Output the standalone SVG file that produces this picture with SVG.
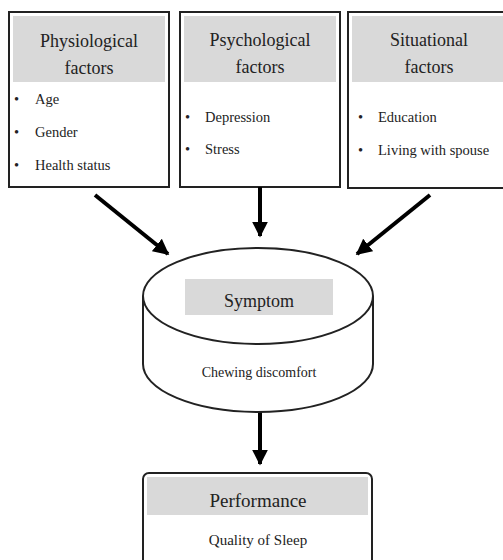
<svg xmlns="http://www.w3.org/2000/svg" width="503" height="560" viewBox="0 0 503 560">
<defs>
<style>
.box{fill:#fff;stroke:#222;stroke-width:2}
.hdr{fill:#d9d9d9}
.t{font-family:"Liberation Serif","Times New Roman",serif;fill:#222;text-anchor:middle;font-size:18px}
.b{font-family:"Liberation Serif","Times New Roman",serif;fill:#222;font-size:14.5px}
.conn{stroke:#000;stroke-width:4;fill:none;marker-end:url(#ah)}
</style>
<marker id="ah" viewBox="0 0 10 10" refX="9" refY="5" markerWidth="4" markerHeight="4" orient="auto" markerUnits="strokeWidth">
<path d="M0,0 L10,5 L0,10 z" fill="#000"/>
</marker>
</defs>
<rect width="503" height="560" fill="#fff"/>
<g id="physiological">
<rect class="box" x="9" y="12" width="160" height="175"/>
<rect class="hdr" x="13" y="16" width="152" height="66"/>
<text class="t" x="89" y="47">Physiological</text>
<text class="t" x="89" y="74">factors</text>
<text class="b" x="14" y="104">•</text><text class="b" x="35" y="104">Age</text>
<text class="b" x="14" y="137">•</text><text class="b" x="35" y="137">Gender</text>
<text class="b" x="14" y="170">•</text><text class="b" x="35" y="170">Health status</text>
</g>
<g id="psychological">
<rect class="box" x="180" y="12" width="160" height="175"/>
<rect class="hdr" x="184" y="16" width="152" height="66"/>
<text class="t" x="260" y="46">Psychological</text>
<text class="t" x="260" y="73">factors</text>
<text class="b" x="185" y="122">•</text><text class="b" x="205" y="122">Depression</text>
<text class="b" x="185" y="154">•</text><text class="b" x="205" y="154">Stress</text>
</g>
<g id="situational">
<rect class="box" x="348" y="12" width="160" height="176"/>
<rect class="hdr" x="352" y="16" width="151" height="66"/>
<text class="t" x="429" y="46">Situational</text>
<text class="t" x="429" y="73">factors</text>
<text class="b" x="358" y="122">•</text><text class="b" x="378" y="122">Education</text>
<text class="b" x="358" y="155">•</text><text class="b" x="378" y="155">Living with spouse</text>
</g>
<g id="connectors">
<line class="conn" x1="95" y1="195" x2="168" y2="254"/>
<line class="conn" x1="260" y1="187" x2="260" y2="236"/>
<line class="conn" x1="430" y1="195" x2="357" y2="254"/>
<line class="conn" x1="260" y1="412" x2="260" y2="464"/>
</g>
<g id="symptom">
<path d="M143,296 L143,364 A115,48 0 0 0 373,364 L373,296" fill="#fff" stroke="#222" stroke-width="2"/>
<ellipse cx="258" cy="296" rx="115" ry="48" fill="#fff" stroke="#222" stroke-width="2"/>
<rect class="hdr" x="185" y="279" width="148" height="36"/>
<text class="t" x="259" y="307">Symptom</text>
<text class="b" x="259" y="377" text-anchor="middle" style="font-size:14px">Chewing discomfort</text>
</g>
<g id="performance">
<rect class="box" x="143" y="473" width="229" height="100" rx="6"/>
<rect class="hdr" x="147" y="477" width="221" height="38"/>
<text class="t" x="258" y="507" style="font-size:19px">Performance</text>
<text class="b" x="258" y="545" text-anchor="middle" style="font-size:15px">Quality of Sleep</text>
</g>
</svg>
